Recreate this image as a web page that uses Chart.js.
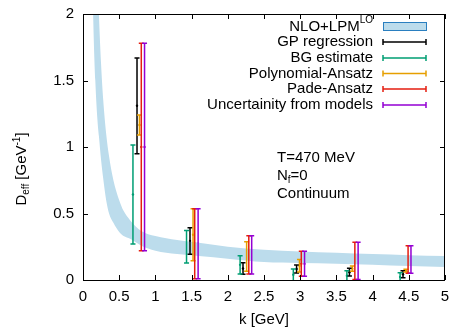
<!DOCTYPE html>
<html>
<head>
<meta charset="utf-8">
<script src="https://cdn.jsdelivr.net/npm/chart.js@4.4.0/dist/chart.umd.min.js"></script>
<style>
  html, body { margin: 0; padding: 0; background: #fff; }
</style>
</head>
<body>
<canvas id="myChart" width="452" height="329"></canvas>
<script>
// NLO+LPM^LO band (upper and lower edge on a common k grid)
const bandK     = [0.12, 0.14, 0.17, 0.2, 0.22, 0.25, 0.28, 0.32, 0.36, 0.42, 0.5, 0.56, 0.65, 0.8, 1.0, 1.3, 1.6, 2.0, 2.5, 3.0, 3.5, 4.0, 4.5, 5.0];
const bandUpper = [6.0, 4.5, 3.1, 2.35, 2.0, 1.62, 1.35, 1.1, 0.93, 0.75, 0.6, 0.52, 0.45, 0.37, 0.33, 0.30, 0.28, 0.25, 0.228, 0.215, 0.205, 0.195, 0.187, 0.18];
const bandLower = [2.6, 2.0, 1.5, 1.2, 1.08, 0.9, 0.76, 0.6, 0.5, 0.43, 0.36, 0.33, 0.31, 0.26, 0.22, 0.195, 0.18, 0.16, 0.135, 0.128, 0.123, 0.115, 0.105, 0.097];

// error bars: k position, lower and upper end
const gpK    = [0.746, 1.478, 2.21, 2.95, 3.68, 4.42];
const gpLow  = [0.95, 0.193, 0.043, 0.053, 0.03, 0.017];
const gpHigh = [1.67, 0.393, 0.13, 0.113, 0.088, 0.07];

const bgK    = [0.69, 1.43, 2.17, 2.905, 3.645, 4.38];
const bgLow  = [0.27, 0.128, 0.045, -0.005, -0.005, -0.01];
const bgHigh = [1.015, 0.373, 0.183, 0.083, 0.07, 0.055];

const polyK    = [0.78, 1.52, 2.26, 2.99, 3.72, 4.46];
const polyLow  = [1.09, 0.145, 0.065, 0.06, 0.065, 0.06];
const polyHigh = [1.24, 0.536, 0.288, 0.155, 0.105, 0.08];

const padeK    = [0.805, 1.543, 2.29, 3.015, 3.755, 4.49];
const padeLow  = [0.22, 0.01, 0.045, 0.028, 0.003, 0.05];
const padeHigh = [1.78, 0.536, 0.333, 0.216, 0.283, 0.258];

const modelK    = [0.85, 1.59, 2.33, 3.06, 3.80, 4.53];
const modelLow  = [0.22, 0.01, 0.045, 0.028, 0.003, 0.05];
const modelHigh = [1.78, 0.536, 0.333, 0.216, 0.283, 0.258];

const xTicks = [0, 0.5, 1, 1.5, 2, 2.5, 3, 3.5, 4, 4.5, 5];
const xTickLabels = ['0', '0.5', '1', '1.5', '2', '2.5', '3', '3.5', '4', '4.5', '5'];
const yTicks = [0, 0.5, 1, 1.5, 2];
const yTickLabels = ['0', '0.5', '1', '1.5', '2'];

const bandColor = '#bcdcec';

function bars(k, lo, hi) {
    return k.map((v, i) => ({ x: v, y: (lo[i] + hi[i]) / 2, yMin: lo[i], yMax: hi[i] }));
}

function errSet(label, color, k, lo, hi) {
    return {
        type: 'scatter', label: label, bars: true,
        data: bars(k, lo, hi),
        borderColor: color, backgroundColor: color,
        pointRadius: 1.2, borderWidth: 0, pointHoverRadius: 1.2
    };
}

Chart.defaults.font.family = '"Liberation Sans", Arial, sans-serif';
Chart.defaults.font.size = 15;
Chart.defaults.color = '#000';

// vertical error bars with caps, clipped to the plot area
const errorBars = {
    id: 'errorBars',
    afterDatasetsDraw(chart) {
        const { ctx, chartArea: a, scales: { x, y } } = chart;
        ctx.save();
        ctx.beginPath();
        ctx.rect(a.left, a.top, a.right - a.left, a.bottom - a.top);
        ctx.clip();
        chart.data.datasets.forEach(ds => {
            if (!ds.bars) return;
            ctx.strokeStyle = ds.borderColor;
            ctx.lineWidth = 1.5;
            ds.data.forEach(p => {
                const px = x.getPixelForValue(p.x);
                const lo = y.getPixelForValue(p.yMin);
                const hi = y.getPixelForValue(p.yMax);
                ctx.beginPath();
                ctx.moveTo(px, lo); ctx.lineTo(px, hi);
                ctx.moveTo(px - 2.5, lo); ctx.lineTo(px + 2.5, lo);
                ctx.moveTo(px - 2.5, hi); ctx.lineTo(px + 2.5, hi);
                ctx.stroke();
            });
        });
        ctx.restore();
    }
};

// frame, inward ticks, y title, key and text labels
const decor = {
    id: 'decor',
    afterDraw(chart) {
        const { ctx, chartArea: a, scales: { x, y } } = chart;
        ctx.save();
        ctx.strokeStyle = '#000';
        ctx.lineWidth = 1;
        ctx.strokeRect(a.left + 0.5, a.top + 0.5, a.right - a.left - 1, a.bottom - a.top);
        ctx.beginPath();
        xTicks.forEach(v => {
            const px = Math.round(x.getPixelForValue(v)) + 0.5;
            ctx.moveTo(px, a.bottom); ctx.lineTo(px, a.bottom - 5);
            ctx.moveTo(px, a.top); ctx.lineTo(px, a.top + 5);
        });
        yTicks.forEach(v => {
            const py = Math.round(y.getPixelForValue(v)) + 0.5;
            ctx.moveTo(a.left, py); ctx.lineTo(a.left + 5, py);
            ctx.moveTo(a.right, py); ctx.lineTo(a.right - 5, py);
        });
        ctx.stroke();

        const font = s => s + 'px "Liberation Sans", Arial, sans-serif';
        ctx.fillStyle = '#000';
        ctx.textBaseline = 'middle';

        // y axis title D_eff [GeV^-1]
        ctx.save();
        ctx.translate(22, 169);
        ctx.rotate(-Math.PI / 2);
        const parts = [['D', 15, 0], ['eff', 10, 4], [' [GeV', 15, 0], ['-1', 10, -5], [']', 15, 0]];
        let w = 0;
        parts.forEach(p => { ctx.font = font(p[1]); w += ctx.measureText(p[0]).width; });
        let cx = -w / 2;
        ctx.textAlign = 'left';
        parts.forEach(p => {
            ctx.font = font(p[1]);
            ctx.fillText(p[0], cx, p[2]);
            cx += ctx.measureText(p[0]).width;
        });
        ctx.restore();

        // text block
        ctx.textAlign = 'left';
        ctx.font = font(15);
        ctx.fillText('T=470 MeV', 277, 158);
        ctx.fillText('N', 277, 176);
        let nw = ctx.measureText('N').width;
        ctx.font = font(10);
        ctx.fillText('f', 277 + nw, 180);
        let fw = ctx.measureText('f').width;
        ctx.font = font(15);
        ctx.fillText('=0', 277 + nw + fw, 176);
        ctx.fillText('Continuum', 277, 194);

        // key
        const tx = 373, sx0 = 383, sx1 = 426;
        const rowY = [26, 42, 58, 73.5, 89, 105];
        ctx.textAlign = 'right';
        ctx.font = font(10);
        const sup = ctx.measureText('LO').width;
        ctx.fillText('LO', tx, rowY[0] - 6);
        ctx.font = font(15);
        ctx.fillText('NLO+LPM', tx - sup, rowY[0] + 1);
        ctx.fillStyle = bandColor;
        ctx.fillRect(sx0, rowY[0] - 4, sx1 - sx0, 8);
        ctx.strokeStyle = '#2a7fc0';
        ctx.strokeRect(sx0 + 0.5, rowY[0] - 4 + 0.5, sx1 - sx0, 8);

        const errSets = chart.data.datasets.filter(d => d.bars);
        errSets.forEach((ds, i) => {
            const ry = rowY[i + 1];
            ctx.fillStyle = '#000';
            ctx.fillText(ds.label, tx, ry);
            ctx.strokeStyle = ds.borderColor;
            ctx.lineWidth = 1.5;
            ctx.beginPath();
            ctx.moveTo(sx0, ry); ctx.lineTo(sx1, ry);
            ctx.moveTo(sx0, ry - 3); ctx.lineTo(sx0, ry + 3);
            ctx.moveTo(sx1, ry - 3); ctx.lineTo(sx1, ry + 3);
            ctx.stroke();
        });
        ctx.restore();
    }
};

var ctx = document.getElementById('myChart').getContext('2d');
var myChart = new Chart(ctx, {
    type: 'scatter',
    data: {
        datasets: [
            {
                type: 'line', label: 'NLO+LPM LO upper',
                data: bandK.map((k, i) => ({ x: k, y: bandUpper[i] })),
                borderWidth: 0, pointRadius: 0, fill: '+1',
                backgroundColor: bandColor, borderColor: bandColor,
                cubicInterpolationMode: 'monotone'
            },
            {
                type: 'line', label: 'NLO+LPM LO lower',
                data: bandK.map((k, i) => ({ x: k, y: bandLower[i] })),
                borderWidth: 0, pointRadius: 0, fill: false,
                backgroundColor: bandColor, borderColor: bandColor,
                cubicInterpolationMode: 'monotone'
            },
            errSet('GP regression', '#000000', gpK, gpLow, gpHigh),
            errSet('BG estimate', '#009e73', bgK, bgLow, bgHigh),
            errSet('Polynomial-Ansatz', '#e69f00', polyK, polyLow, polyHigh),
            errSet('Pade-Ansatz', '#e51e10', padeK, padeLow, padeHigh),
            errSet('Uncertainity from models', '#9400d3', modelK, modelLow, modelHigh)
        ]
    },
    options: {
        responsive: false,
        animation: false,
        layout: { padding: { left: 0, top: 14, right: 7, bottom: 0 } },
        plugins: { legend: { display: false }, tooltip: { enabled: false } },
        scales: {
            x: {
                type: 'linear', min: 0, max: 5,
                afterBuildTicks: s => { s.ticks = xTicks.map(v => ({ value: v })); },
                afterFit: s => { s.height = 49; s.paddingLeft = 0; s.paddingRight = 0; },
                grid: { display: false, drawTicks: false },
                border: { display: false },
                ticks: {
                    padding: 8, maxRotation: 0, autoSkip: false,
                    callback: v => xTickLabels[xTicks.indexOf(v)]
                },
                title: { display: true, text: 'k [GeV]', padding: { top: 0, bottom: 0 } }
            },
            y: {
                type: 'linear', min: 0, max: 2,
                afterBuildTicks: s => { s.ticks = yTicks.map(v => ({ value: v })); },
                afterFit: s => { s.width = 83; s.paddingTop = 0; s.paddingBottom = 0; },
                grid: { display: false, drawTicks: false },
                border: { display: false },
                ticks: {
                    padding: 9,
                    callback: v => yTickLabels[yTicks.indexOf(v)]
                }
            }
        }
    },
    plugins: [errorBars, decor]
});
</script>
</body>
</html>
